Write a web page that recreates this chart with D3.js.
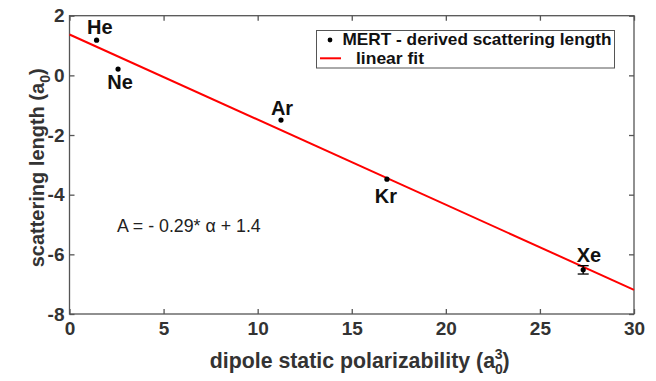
<!DOCTYPE html>
<html><head><meta charset="utf-8">
<script src="https://cdn.jsdelivr.net/npm/d3@7"></script>
<style>
html,body{margin:0;padding:0;background:#fff;}
svg{display:block;font-family:"Liberation Sans",Arial,Helvetica,sans-serif;}
</style></head>
<body><svg id="c" width="656" height="381"></svg>
<script>
const elements = ["He","Ne","Ar","Kr","Xe"];
const polarizability = [1.44, 2.58, 11.24, 16.87, 27.3];
const scatteringLength = [1.18, 0.21, -1.50, -3.48, -6.52];
const errorBar = [0, 0, 0, 0, 0.14];
const fitX = [0, 30];
const fitY = [1.37, -7.19];
const xTicks = [0,5,10,15,20,25,30];
const yTicks = [2,0,-2,-4,-6,-8];

const svg = d3.select("#c");
const L = 69.5, R = 634, T = 15.7, B = 314;
const x = d3.scaleLinear().domain([0,30]).range([L,R]);
const y = d3.scaleLinear().domain([-8,2]).range([B,T]);
const axisColor = "#555";
const textColor = "#333";

// frame
svg.append("rect").attr("x",L).attr("y",T).attr("width",R-L).attr("height",B-T)
  .attr("fill","none").attr("stroke",axisColor).attr("stroke-width",1.3);

// axes
const tickFmt = d => String(d);
const gx = svg.append("g").attr("transform",`translate(0,${B})`)
  .call(d3.axisBottom(x).tickValues(xTicks).tickSize(-5).tickPadding(8).tickFormat(tickFmt));
const gxt = svg.append("g").attr("transform",`translate(0,${T})`)
  .call(d3.axisTop(x).tickValues(xTicks).tickSize(-5).tickFormat(""));
const gy = svg.append("g").attr("transform",`translate(${L},0)`)
  .call(d3.axisLeft(y).tickValues(yTicks).tickSize(-5).tickPadding(5).tickFormat(tickFmt));
const gyr = svg.append("g").attr("transform",`translate(${R},0)`)
  .call(d3.axisRight(y).tickValues(yTicks).tickSize(-5).tickFormat(""));
[gx,gxt,gy,gyr].forEach(g=>{
  g.select(".domain").remove();
  g.selectAll(".tick line").attr("stroke",axisColor).attr("stroke-width",1.3);
  g.selectAll(".tick text").attr("fill",textColor).attr("font-size",19).attr("font-weight","bold")
    .attr("font-family","'Liberation Sans',Arial,sans-serif");
});
gx.selectAll(".tick text").attr("dy","0.71em");

// fit line
svg.append("line").attr("x1",x(fitX[0])).attr("y1",y(fitY[0])).attr("x2",x(fitX[1])).attr("y2",y(fitY[1]))
  .attr("stroke","#ff0000").attr("stroke-width",2);

// error bars
elements.forEach((e,i)=>{
  if(errorBar[i]>0){
    const cx = x(polarizability[i]);
    const g = svg.append("g").attr("stroke","#000").attr("stroke-width",1.3);
    g.append("line").attr("x1",cx).attr("x2",cx).attr("y1",y(scatteringLength[i]+errorBar[i])).attr("y2",y(scatteringLength[i]-errorBar[i]));
    g.append("line").attr("x1",cx-5.5).attr("x2",cx+5.5).attr("y1",y(scatteringLength[i]+errorBar[i])).attr("y2",y(scatteringLength[i]+errorBar[i]));
    g.append("line").attr("x1",cx-5.5).attr("x2",cx+5.5).attr("y1",y(scatteringLength[i]-errorBar[i])).attr("y2",y(scatteringLength[i]-errorBar[i]));
  }
});

// points
svg.selectAll("circle.pt").data(elements).enter().append("circle").attr("class","pt")
  .attr("cx",(d,i)=>x(polarizability[i])).attr("cy",(d,i)=>y(scatteringLength[i]))
  .attr("r",2.6).attr("fill","#000");

// element labels (offsets in px relative to point)
const labelOffsets = {He:[3.3,-6],Ne:[2,19.7],Ar:[1,-5],Kr:[-1,24],Xe:[5.7,-7.7]};
elements.forEach((e,i)=>{
  const o = labelOffsets[e];
  svg.append("text").attr("x",x(polarizability[i])+o[0]).attr("y",y(scatteringLength[i])+o[1])
    .attr("text-anchor","middle").attr("font-size",20).attr("font-weight","bold").attr("fill","#111").text(e);
});

// equation
svg.append("text").attr("x",117).attr("y",231.5).attr("font-size",17.8).attr("fill","#222")
  .attr("font-family","'Liberation Sans',Arial,sans-serif")
  .text("A = - 0.29* α + 1.4");

// legend
const lg = svg.append("g");
lg.append("rect").attr("x",316.5).attr("y",30.5).attr("width",298).attr("height",37.5)
  .attr("fill","#fff").attr("stroke","#555").attr("stroke-width",1);
lg.append("circle").attr("cx",330).attr("cy",40).attr("r",2.4).attr("fill","#000");
lg.append("line").attr("x1",320).attr("x2",341).attr("y1",58.3).attr("y2",58.3).attr("stroke","#ff0000").attr("stroke-width",2);
lg.append("text").attr("x",342.5).attr("y",45).attr("font-size",16.2).attr("font-weight","bold").attr("fill","#111")
  .attr("textLength",269).attr("lengthAdjust","spacingAndGlyphs")
  .text("MERT - derived scattering length");
lg.append("text").attr("x",356).attr("y",64).attr("font-size",16.2).attr("font-weight","bold").attr("fill","#111")
  .attr("textLength",68).attr("lengthAdjust","spacingAndGlyphs")
  .text("linear fit");

// axis titles
const xt = svg.append("text").attr("x",(L+R)/2 + 8).attr("y",367.5).attr("text-anchor","middle")
  .attr("font-size",21.3).attr("font-weight","bold").attr("fill",textColor);
xt.append("tspan").text("dipole static polarizability (a");
xt.append("tspan").attr("font-size",14).attr("dy",6).text("0");
xt.append("tspan").attr("font-size",14).attr("dx",-8).attr("dy",-15).text("3");
xt.append("tspan").attr("dy",9).text(")");

const yt = svg.append("text").attr("transform",`translate(44,${(T+B)/2 + 3}) rotate(-90)`).attr("text-anchor","middle")
  .attr("font-size",20).attr("font-weight","bold").attr("fill",textColor);
yt.append("tspan").text("scattering length (a");
yt.append("tspan").attr("font-size",14).attr("dy",6).text("0");
yt.append("tspan").attr("dy",-6).text(")");
</script></body></html>
